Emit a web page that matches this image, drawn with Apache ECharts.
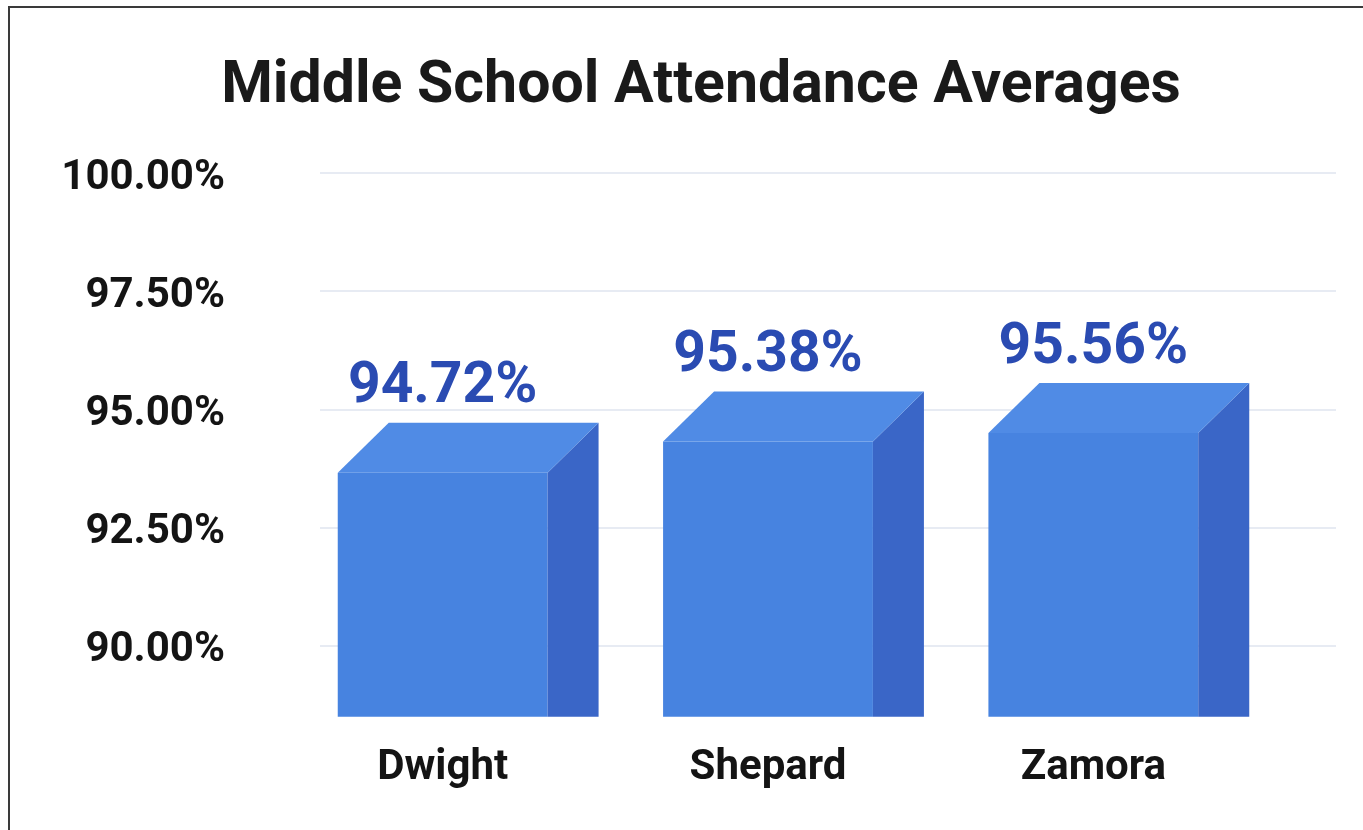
<!DOCTYPE html>
<html>
<head>
<meta charset="utf-8">
<script src="https://cdn.jsdelivr.net/npm/echarts@6/dist/echarts.min.js"></script>
<style>
  html, body { margin: 0; padding: 0; background: #fff; }
  #main { width: 1363px; height: 830px; }
</style>
</head>
<body>
<div id="main"></div>
<script>
// data
const schools = ['Dwight', 'Shepard', 'Zamora'];
const attendance = [94.72, 95.38, 95.56];
// value axis
const yMin = 87.5, yMax = 100, yStep = 2.5;
const floorValue = 88.5; // where the bars are cut off

const DX = 51, DY = 50; // depth of the 3d box

let chart = echarts.init(document.getElementById('main'));

function renderBox(params, api) {
  const i = api.value(0);
  const v = api.value(1);
  const back = api.coord([i, v]);
  const base = api.coord([i, floorValue]);
  const w = api.size([1, 0])[0] * 0.645;
  const x0 = back[0] - w / 2, x1 = back[0] + w / 2;
  const yb = back[1], yf = back[1] + DY, y0 = base[1];
  return {
    type: 'group',
    children: [
      { type: 'rect', shape: { x: x0, y: yf, width: w, height: y0 - yf }, style: { fill: '#4783e0' } },
      { type: 'polygon', shape: { points: [[x1, yf], [x1 + DX, yb], [x1 + DX, y0], [x1, y0]] }, style: { fill: '#3a66c7' } },
      { type: 'polygon', shape: { points: [[x0, yf], [x1, yf], [x1 + DX, yb], [x0 + DX, yb]] }, style: { fill: '#508be5' } },
      {
        type: 'text',
        x: back[0], y: yb - 6,
        style: {
          text: v.toFixed(2) + '%',
          fill: '#2a4bb2',
          font: 'bold 57px Roboto',
          align: 'center',
          verticalAlign: 'bottom'
        }
      }
    ]
  };
}

chart.setOption({
  animation: false,
  title: {
    text: 'Middle School Attendance Averages',
    left: 696,
    top: 53,
    textAlign: 'center',
    textStyle: { fontFamily: 'Roboto', fontWeight: 'bold', fontSize: 59, color: '#1a1a1a' }
  },
  graphic: [{
    type: 'rect',
    shape: { x: 9, y: 7, width: 1400, height: 900 },
    style: { fill: 'none', stroke: '#3a3a3a', lineWidth: 2 }
  }],
  grid: [
    { left: 320, right: 27, top: 173, bottom: 66 },
    { left: 280, right: 107, top: 173, bottom: 66 }
  ],
  xAxis: [
    { gridIndex: 0, type: 'category', data: schools, show: false },
    {
      gridIndex: 1, type: 'category', data: schools,
      axisLine: { show: false }, axisTick: { show: false },
      axisLabel: { margin: -17, fontFamily: 'Roboto', fontWeight: 'bold', fontSize: 42, color: '#141414' }
    }
  ],
  yAxis: [
    {
      gridIndex: 0, type: 'value', min: yMin, max: yMax, interval: yStep,
      axisLine: { show: false }, axisTick: { show: false },
      axisLabel: {
        margin: 95, fontFamily: 'Roboto', fontWeight: 'bold', fontSize: 42, color: '#141414',
        verticalAlign: 'top', lineHeight: 10,
        formatter: v => v < 90 ? '' : v.toFixed(2) + '%'
      },
      splitLine: { lineStyle: { color: ['transparent', '#dfe5ef', '#dfe5ef', '#dfe5ef', '#dfe5ef', '#dfe5ef'], width: 1.5 } }
    },
    { gridIndex: 1, type: 'value', min: yMin, max: yMax, interval: yStep, show: false, splitLine: { show: false } }
  ],
  series: [{
    type: 'custom',
    xAxisIndex: 1,
    yAxisIndex: 1,
    clip: false,
    renderItem: renderBox,
    data: schools.map((s, i) => [i, attendance[i]])
  }]
});
</script>
</body>
</html>
